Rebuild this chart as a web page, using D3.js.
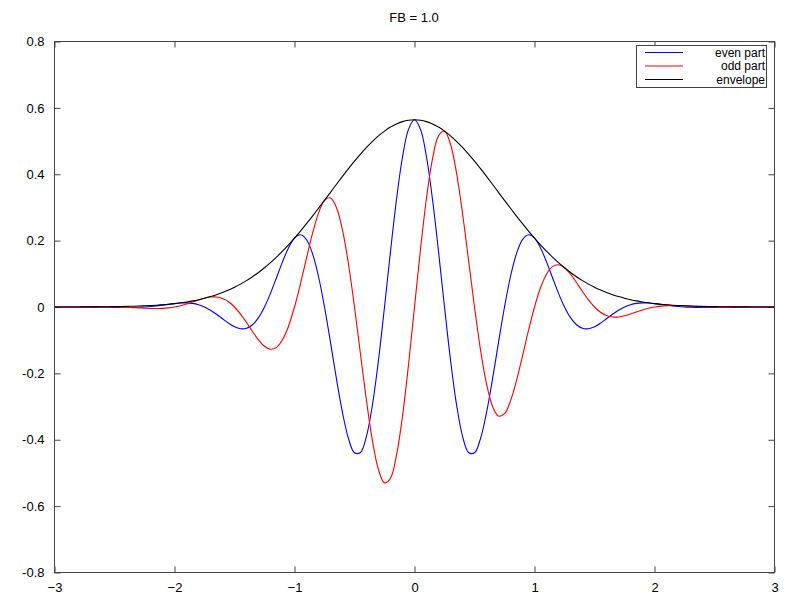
<!DOCTYPE html>
<html><head><meta charset="utf-8">
<script src="https://cdn.jsdelivr.net/npm/d3@7"></script>
<style>body{margin:0;background:#fff}svg{display:block}text{font-family:"Liberation Sans",Arial,sans-serif;}</style>
</head><body><svg id="c" width="800" height="600"></svg>
<script>
const title = "FB = 1.0";
const xTicks = [-3,-2,-1,0,1,2,3];
const yTicks = [-0.8,-0.6,-0.4,-0.2,0,0.2,0.4,0.6,0.8];
const yTickLabels = ["-0.8","-0.6","-0.4","-0.2","0","0.2","0.4","0.6","0.8"];
const seriesNames = ["even part","odd part","envelope"];
const xs = [-3.00,-2.95,-2.90,-2.85,-2.80,-2.75,-2.70,-2.65,-2.60,-2.55,-2.50,-2.45,-2.40,-2.35,-2.30,-2.25,-2.20,-2.15,-2.10,-2.05,
-2.00,-1.95,-1.90,-1.85,-1.80,-1.75,-1.70,-1.65,-1.60,-1.55,-1.50,-1.45,-1.40,-1.35,-1.30,-1.25,-1.20,-1.15,-1.10,-1.05,
-1.00,-0.95,-0.90,-0.85,-0.80,-0.75,-0.70,-0.65,-0.60,-0.55,-0.50,-0.45,-0.40,-0.35,-0.30,-0.25,-0.20,-0.15,-0.10,-0.05,
0.00,0.05,0.10,0.15,0.20,0.25,0.30,0.35,0.40,0.45,0.50,0.55,0.60,0.65,0.70,0.75,0.80,0.85,0.90,0.95,
1.00,1.05,1.10,1.15,1.20,1.25,1.30,1.35,1.40,1.45,1.50,1.55,1.60,1.65,1.70,1.75,1.80,1.85,1.90,1.95,
2.00,2.05,2.10,2.15,2.20,2.25,2.30,2.35,2.40,2.45,2.50,2.55,2.60,2.65,2.70,2.75,2.80,2.85,2.90,2.95,3.00];
const evenPart = [0.0001,0.0001,0.0001,0.0001,0.0001,0,-0.0001,-0.0003,-0.0006,-0.0008,-0.0011,
-0.0013,-0.0015,-0.0014,-0.0009,0,0.0014,0.0032,0.0056,0.0080,0.0103,
0.0120,0.0124,0.0108,0.0068,0,-0.0097,-0.0218,-0.0353,-0.0486,-0.0595,
-0.0655,-0.0643,-0.0536,-0.0322,0,0.0413,0.0883,0.1361,0.1781,0.2076,
0.2176,0.2031,0.1610,0.0919,0,-0.1068,-0.2174,-0.3184,-0.3965,-0.4394,
-0.4383,-0.3890,-0.2934,-0.1593,0,0.1675,0.3242,0.4519,0.5353,
0.5642,0.5353,0.4519,0.3242,0.1675,0,-0.1593,-0.2934,-0.3890,-0.4383,
-0.4394,-0.3965,-0.3184,-0.2174,-0.1068,0,0.0919,0.1610,0.2031,0.2176,
0.2076,0.1781,0.1361,0.0883,0.0413,0,-0.0322,-0.0536,-0.0643,-0.0655,
-0.0595,-0.0486,-0.0353,-0.0218,-0.0097,0,0.0068,0.0108,0.0124,0.0120,
0.0103,0.0080,0.0056,0.0032,0.0014,0,-0.0009,-0.0014,-0.0015,-0.0013,
-0.0011,-0.0008,-0.0006,-0.0003,-0.0001,0,0.0001,0.0001,0.0001,0.0001,0.0001];
const oddPart = [0,0,0.0001,0.0002,0.0002,0.0003,0.0004,0.0004,0.0004,0.0002,0,
-0.0004,-0.0011,-0.0019,-0.0027,-0.0036,-0.0043,-0.0044,-0.0041,-0.0026,0,
0.0039,0.0090,0.0149,0.0210,0.0264,0.0299,0.0300,0.0256,0.0158,0,
-0.0213,-0.0467,-0.0738,-0.0990,-0.1183,-0.1272,-0.1216,-0.0989,-0.0579,0,
0.0707,0.1475,0.2216,0.2830,0.3215,0.3287,0.2992,0.2314,0.1288,0,
-0.1424,-0.2826,-0.4039,-0.4904,-0.5300,-0.5156,-0.4462,-0.3283,-0.1739,
0,0.1739,0.3283,0.4462,0.5156,0.5300,0.4904,0.4039,0.2826,0.1424,
0,-0.1288,-0.2314,-0.2992,-0.3287,-0.3215,-0.2830,-0.2216,-0.1475,-0.0707,
0,0.0579,0.0989,0.1216,0.1272,0.1183,0.0990,0.0738,0.0467,0.0213,
0,-0.0158,-0.0256,-0.0300,-0.0299,-0.0264,-0.0210,-0.0149,-0.0090,-0.0039,
0,0.0026,0.0041,0.0044,0.0043,0.0036,0.0027,0.0019,0.0011,0.0004,
0,-0.0002,-0.0004,-0.0004,-0.0004,-0.0003,-0.0002,-0.0002,-0.0001,0,0];
const envelope = [0.0001,0.0001,0.0001,0.0002,0.0002,0.0003,0.0004,0.0005,0.0007,0.0008,0.0011,
0.0014,0.0018,0.0023,0.0028,0.0036,0.0045,0.0055,0.0069,0.0084,0.0103,
0.0126,0.0153,0.0184,0.0221,0.0264,0.0314,0.0371,0.0436,0.0511,0.0595,
0.0689,0.0795,0.0912,0.1041,0.1183,0.1337,0.1503,0.1682,0.1873,0.2076,
0.2288,0.2510,0.2739,0.2975,0.3215,0.3456,0.3698,0.3936,0.4169,0.4394,
0.4608,0.4808,0.4992,0.5156,0.5300,0.5421,0.5516,0.5586,0.5628,
0.5642,0.5628,0.5586,0.5516,0.5421,0.5300,0.5156,0.4992,0.4808,0.4608,
0.4394,0.4169,0.3936,0.3698,0.3456,0.3215,0.2975,0.2739,0.2510,0.2288,
0.2076,0.1873,0.1682,0.1503,0.1337,0.1183,0.1041,0.0912,0.0795,0.0689,
0.0595,0.0511,0.0436,0.0371,0.0314,0.0264,0.0221,0.0184,0.0153,0.0126,
0.0103,0.0084,0.0069,0.0055,0.0045,0.0036,0.0028,0.0023,0.0018,0.0014,
0.0011,0.0008,0.0007,0.0005,0.0004,0.0003,0.0002,0.0002,0.0001,0.0001,0.0001];

const svg = d3.select("#c");
const L = 54.5, R = 774.5, T = 41.5, B = 572.5;
const x = d3.scaleLinear().domain([-3,3]).range([L,R]);
const y = d3.scaleLinear().domain([-0.8,0.8]).range([B,T]);
const axisColor = "#444";
const tickLen = 6;

svg.append("text").attr("x",414).attr("y",22).attr("text-anchor","middle")
  .attr("font-size",13).attr("fill","#000").text(title);

const gB = svg.append("g").attr("transform",`translate(0,${B})`)
  .call(d3.axisBottom(x).tickValues(xTicks).tickFormat(d3.format("d")).tickSizeInner(-tickLen).tickSizeOuter(0));
gB.selectAll("text").attr("dy","1.3em").attr("font-size",13).attr("fill","#000").style("font-family","Liberation Sans, Arial, sans-serif");
const gT = svg.append("g").attr("transform",`translate(0,${T})`)
  .call(d3.axisTop(x).tickValues(xTicks).tickFormat("").tickSizeInner(-tickLen).tickSizeOuter(0));
const gL = svg.append("g").attr("transform",`translate(${L},0)`)
  .call(d3.axisLeft(y).tickValues(yTicks).tickFormat((d,i)=>yTickLabels[i]).tickSizeInner(-tickLen).tickSizeOuter(0).tickPadding(10));
gL.selectAll("text").attr("font-size",13).attr("fill","#000").style("font-family","Liberation Sans, Arial, sans-serif");
const gR = svg.append("g").attr("transform",`translate(${R},0)`)
  .call(d3.axisRight(y).tickValues(yTicks).tickFormat("").tickSizeInner(-tickLen).tickSizeOuter(0));
[gB,gT,gL,gR].forEach(g=>{g.select(".domain").remove(); g.selectAll("line").attr("stroke",axisColor);});

svg.append("defs").append("clipPath").attr("id","clip").append("rect")
  .attr("x",L).attr("y",T).attr("width",R-L).attr("height",B-T);

const line = d3.line().x((d,i)=>x(xs[i])).y(d=>y(d)).curve(d3.curveCatmullRom);
const series = [[evenPart,"#0000ff"],[oddPart,"#ff0000"],[envelope,"#000000"]];
const gp = svg.append("g").attr("clip-path","url(#clip)");
series.forEach(([vals,col])=>{
  gp.append("path").attr("d",line(vals)).attr("fill","none").attr("stroke",col).attr("stroke-width",1.1);
});

svg.append("rect").attr("x",L).attr("y",T).attr("width",R-L).attr("height",B-T)
  .attr("fill","none").attr("stroke",axisColor).attr("stroke-width",1);

// legend
const lg = svg.append("g");
lg.append("rect").attr("x",636.5).attr("y",45.5).attr("width",130).attr("height",42)
  .attr("fill","#fff").attr("stroke",axisColor).attr("stroke-width",1);
const legY = [52.5,66,79.5];
series.forEach(([vals,col],i)=>{
  lg.append("line").attr("x1",645).attr("x2",683).attr("y1",legY[i]).attr("y2",legY[i])
    .attr("stroke",col).attr("stroke-width",1.1);
  lg.append("text").attr("x",765).attr("y",legY[i]+4.3).attr("text-anchor","end")
    .attr("font-size",12).attr("fill","#000").text(seriesNames[i]);
});
</script></body></html>
